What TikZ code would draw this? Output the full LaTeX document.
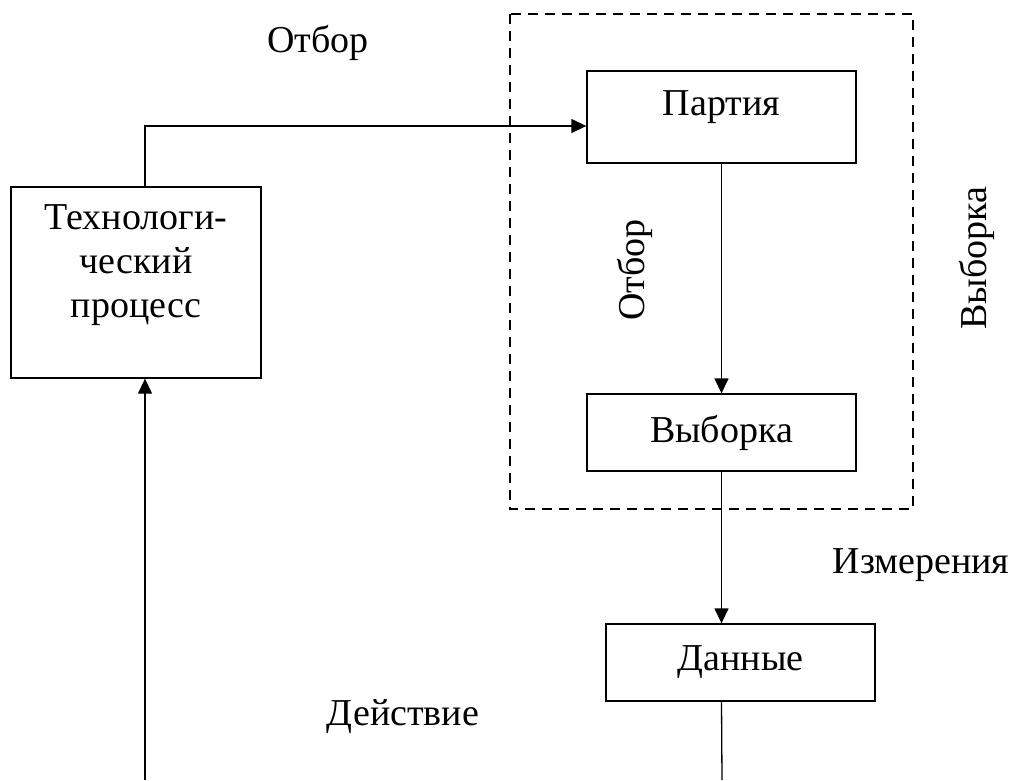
\documentclass[tikz,border=0pt]{standalone}
\usepackage{fontspec}
\setmainfont{Liberation Serif}
\usetikzlibrary{arrows.meta,positioning}
\tikzset{
box/.style={draw, line width=1.3pt, inner sep=0pt, minimum width=269pt, minimum height=77pt}, % plain boxes
txt/.style={inner sep=0pt, font=\fontsize{38}{44}\selectfont}, % all the texts
link/.style={line width=1.3pt, -{Triangle[length=15pt,width=14pt]}}, % arrows
wire/.style={line width=1.3pt} % lines without a head
}

\begin{document}
\begin{tikzpicture}[x=1pt, y=-1pt]
    \useasboundingbox (0,0) rectangle (1012,780);
    % boxes
    \node[box, minimum width=250pt, minimum height=191pt] (tech) at (136,282.5) {};
    \node[txt, align=center] (techtxt) at (136,265) {Технологи-\\ческий\\процесс};
    \node[box, minimum height=92pt] (part) at (721.5,117) {};
    \node[txt] (parttxt) at (721.5,107) {Партия};
    \node[box, txt] (vyb) at (721.5,432.5) {Выборка};
    \node[box, txt] (data) at (740.5,662.5) {Данные};
    % dashed frame
    \draw[dash pattern=on 10pt off 7pt, line width=1.3pt] (510,14) rectangle (913,509);
    % labels
    \node[txt] (otbor) at (318,43) {Отбор};
    \node[txt, rotate=90] (otborv) at (635,270) {Отбор};
    \node[txt, rotate=90] (vybv) at (977,258) {Выборка};
    \node[txt] (izm) at (921,565) {Измерения};
    \node[txt] (deistv) at (403,717) {Действие};
    % connectors
    \coordinate (up) at (145,126);
    \coordinate (dataend) at (722,780);
    \coordinate (actstart) at (145,780);
    \draw[link] (tech.north -| up) -- (up) -- (part.west |- up);
    \draw[link] (part) -- (vyb);
    \draw[link] (vyb.south) -- (vyb.south |- data.north);
    \draw[wire] (vyb.south |- data.south) -- (dataend);
    \draw[link] (actstart) -- (tech.south -| actstart);
\end{tikzpicture}
\end{document}
